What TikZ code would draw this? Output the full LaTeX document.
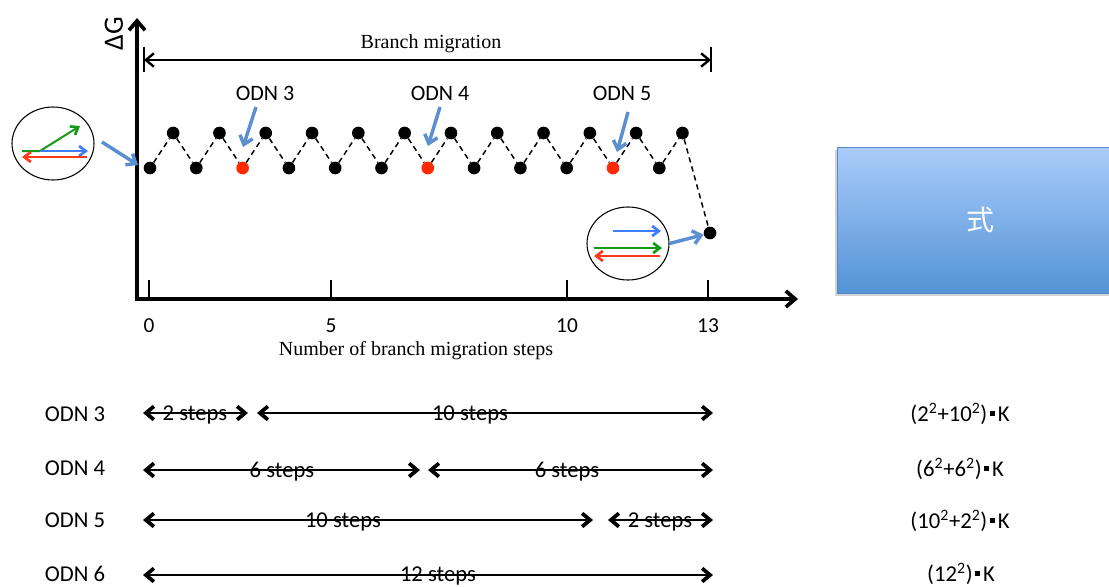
\documentclass[tikz,border=0pt]{standalone}
\usepackage{fontspec}
\setmainfont{Carlito}
\newfontfamily\serif{Liberation Serif}
\newfontfamily\cjk{Noto Sans CJK SC}
\usetikzlibrary{arrows.meta,shadows,shapes.geometric}

\definecolor{odnred}{HTML}{FF2A00}
\definecolor{pointerblue}{HTML}{5B8FD0}
\definecolor{vgreen}{HTML}{149A14}
\definecolor{vblue}{HTML}{3F7DFF}
\definecolor{vred}{HTML}{FF3A1A}
\definecolor{boxtop}{HTML}{AACCFB}
\definecolor{boxbot}{HTML}{5393D6}
\definecolor{boxedge}{HTML}{5A88C4}

% small raised square used as a multiplication dot
\newcommand\midsq{\hspace{0.12em}\raisebox{0.26em}{\rule{0.2em}{0.2em}}\hspace{0.14em}}

\begin{document}
\begin{tikzpicture}[x=0.75pt,y=-0.75pt,
  font=\fontsize{16.5}{19}\selectfont,
  dot/.style={circle,fill=black,inner sep=0pt,minimum size=9.5pt},
  odndot/.style={dot,fill=odnred},
  zig/.style={line width=1.1pt,dash pattern=on 4pt off 3pt},
  axisline/.style={line width=2.4pt,line join=miter,
    {Straight Barb[length=7pt,width=12pt,line width=2.8pt]}-{Straight Barb[length=7pt,width=12pt,line width=2.8pt]}},
  tickline/.style={line width=1.1pt},
  spanarrow/.style={line width=1.1pt,
    {Straight Barb[length=6pt,width=10pt,line width=1.8pt]}-{Straight Barb[length=6pt,width=10pt,line width=1.8pt]}},
  rowarrow/.style={line width=1.1pt,
    {Straight Barb[length=6pt,width=10pt,line width=2.8pt]}-{Straight Barb[length=6pt,width=10pt,line width=2.8pt]}},
  pointer/.style={draw=pointerblue,line width=2.6pt,
    -{Straight Barb[length=6pt,width=10pt,line width=2.6pt]}},
  vec/.style={line width=1.5pt,-{Straight Barb[length=5pt,width=7.5pt,line width=2pt]}},
  bubble/.style={draw,ellipse,line width=0.8pt,inner sep=0pt,minimum width=61.5pt,minimum height=54.75pt},
  lbl/.style={inner sep=1pt,font=\fontsize{17}{20}\selectfont},
  steplbl/.style={inner sep=0pt,font=\fontsize{17}{20}\selectfont},
  ticklbl/.style={inner sep=1pt,font=\fontsize{16}{19}\selectfont},
  seriflbl/.style={inner sep=1pt,font=\serif\fontsize{15}{18}\selectfont}
]
\useasboundingbox (0,0) rectangle (1109,586);

% ---------- energy axes ----------
\coordinate (O) at (137,299);
\coordinate (ytop) at (137,18);
\coordinate (xend) at (798,299);
\draw[axisline] (ytop) -- (O) -- (xend);
\node[rotate=90,inner sep=0pt,font=\fontsize{21}{24}\selectfont] (dG) at (114,34) {ΔG};

\foreach \x/\l in {149/0,331/5,567/10,708/13}{
  \coordinate (tk\l) at (\x,280);
  \coordinate (tb\l) at (\x,299);
  \draw[tickline] (tk\l) -- (tb\l);
  \node[ticklbl] (tl\l) at (\x,326) {\l};
}
\node[seriflbl] (xlabel) at (416,351) {Number of branch migration steps};

% ---------- branch migration span ----------
\coordinate (bmL) at (144,60);
\coordinate (bmR) at (711,60);
\coordinate (bmLt) at (144,47);
\coordinate (bmLb) at (144,72);
\coordinate (bmRt) at (711,47);
\coordinate (bmRb) at (711,72);
\draw[line width=1.5pt] (bmLt) -- (bmLb);
\draw[line width=1.5pt] (bmRt) -- (bmRb);
\draw[spanarrow] (bmL) -- (bmR);
\node[seriflbl] (bmtext) at (431,44) {Branch migration};

% ---------- free-energy zigzag ----------
\foreach \k in {0,...,23}{
  \pgfmathsetmacro\xx{150+23.15*\k}
  \pgfmathtruncatemacro\isup{mod(\k,2)}
  \pgfmathtruncatemacro\isred{(\k==4)||(\k==12)||(\k==20)}
  \ifnum\isup=1 \def\yy{133}\else\def\yy{168}\fi
  \ifnum\isred=1
    \node[odndot] (d\k) at (\xx,\yy) {};
  \else
    \node[dot] (d\k) at (\xx,\yy) {};
  \fi
}
\node[dot] (d24) at (710,233) {};
\foreach \k in {0,...,23}{
  \pgfmathtruncatemacro\nx{\k+1}
  \draw[zig] (d\k) -- (d\nx);
}

% ---------- ODN markers ----------
\node (odn3) at (265,93) {ODN 3};
\node (odn4) at (440,93) {ODN 4};
\node (odn5) at (622,93) {ODN 5};
\coordinate (p3s) at (256,107); \coordinate (p3e) at (243,147);
\coordinate (p4s) at (440,107); \coordinate (p4e) at (428,146);
\coordinate (p5s) at (628,112); \coordinate (p5e) at (617,152);
\draw[pointer] (p3s) -- (p3e);
\draw[pointer] (p4s) -- (p4e);
\draw[pointer] (p5s) -- (p5e);

% ---------- strand bubbles ----------
\node[bubble] (circL) at (53,143.5) {};
\draw[vec,vgreen] (22,151) -- (40,151) -- (80,126);
\draw[vec,vblue] (40,151) -- (88,151);
\draw[vec,vred] (87,157) -- (22,157);
\coordinate (pLs) at (102,142);
\coordinate (pLe) at (138,165);
\draw[pointer] (pLs) -- (pLe);

\node[bubble] (circR) at (628,243.5) {};
\draw[vec,vblue] (613,231) -- (661,231);
\draw[vec,vgreen] (594,248) -- (662,248);
\draw[vec,vred] (660,256) -- (594,256);
\draw[pointer] (circR.east) -- (d24);

% ---------- formula box ----------
\node[draw=boxedge,line width=0.6pt,top color=boxtop,bottom color=boxbot,
      drop shadow={shadow xshift=-1.5pt,shadow yshift=-2.5pt,opacity=0.35},
      minimum width=214.5pt,minimum height=109.5pt,inner sep=0pt,
      text=white,font=\cjk\fontsize{21}{24}\selectfont] (formula) at (980,220) {式};

% ---------- step partitions ----------
\node[lbl] (r3) at (75,414) {ODN 3};
\node[lbl] (r4) at (75,468) {ODN 4};
\node[lbl] (r5) at (75,520) {ODN 5};
\node[lbl] (r6) at (75,574) {ODN 6};

\coordinate (a3a) at (143,413); \coordinate (a3b) at (248,413);
\coordinate (a3c) at (257,413); \coordinate (a3d) at (713,413);
\draw[rowarrow] (a3a) -- (a3b);
\draw[rowarrow] (a3c) -- (a3d);
\node[steplbl] (s3a) at (195,415) {2 steps};
\node[steplbl] (s3b) at (470,415) {10 steps};

\coordinate (a4a) at (143,470); \coordinate (a4b) at (420,470);
\coordinate (a4c) at (428,470); \coordinate (a4d) at (713,470);
\draw[rowarrow] (a4a) -- (a4b);
\draw[rowarrow] (a4c) -- (a4d);
\node[steplbl] (s4a) at (282,472) {6 steps};
\node[steplbl] (s4b) at (567,472) {6 steps};

\coordinate (a5a) at (143,520); \coordinate (a5b) at (593,520);
\coordinate (a5c) at (608,520); \coordinate (a5d) at (713,520);
\draw[rowarrow] (a5a) -- (a5b);
\draw[rowarrow] (a5c) -- (a5d);
\node[steplbl] (s5a) at (343,522) {10 steps};
\node[steplbl] (s5b) at (660,522) {2 steps};

\coordinate (a6a) at (143,575); \coordinate (a6b) at (713,575);
\draw[rowarrow] (a6a) -- (a6b);
\node[steplbl] (s6a) at (438,576) {12 steps};

% ---------- energy sums ----------
\node[lbl] (f3) at (960,414) {(2\textsuperscript{2}+10\textsuperscript{2})\midsq K};
\node[lbl] (f4) at (960,469) {(6\textsuperscript{2}+6\textsuperscript{2})\midsq K};
\node[lbl] (f5) at (960,521) {(10\textsuperscript{2}+2\textsuperscript{2})\midsq K};
\node[lbl] (f6) at (961,574) {(12\textsuperscript{2})\midsq K};
\end{tikzpicture}
\end{document}
